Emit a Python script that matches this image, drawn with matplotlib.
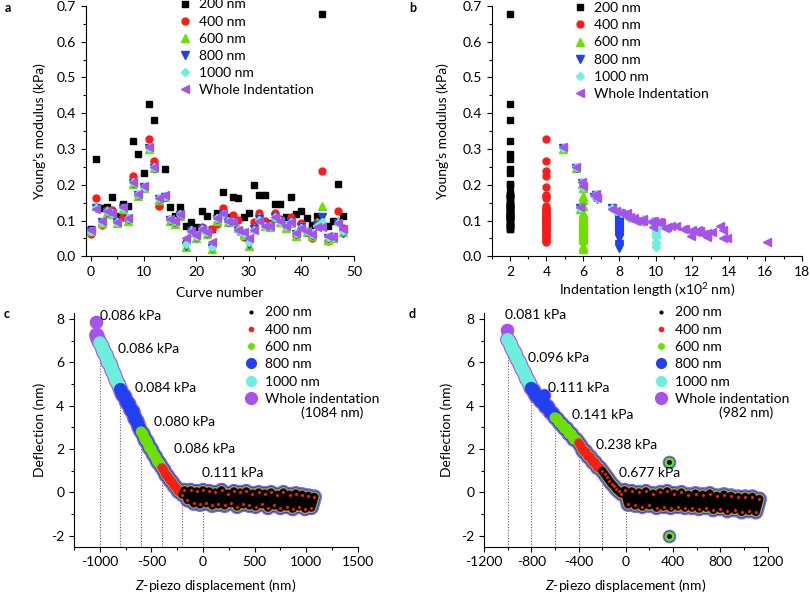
import numpy as np
import matplotlib
matplotlib.use('Agg')
import matplotlib.pyplot as plt
from matplotlib.lines import Line2D
from matplotlib.ticker import MultipleLocator

plt.rcParams['font.family'] = ['Lato', 'DejaVu Sans']
plt.rcParams['font.size'] = 10
plt.rcParams['axes.unicode_minus'] = False
plt.rcParams['mathtext.fontset'] = 'custom'
plt.rcParams['mathtext.rm'] = 'Lato'
plt.rcParams['mathtext.it'] = 'Lato:italic'
plt.rcParams['path.simplify'] = False

# ---------------- panel a / b data ----------------
curve_no = np.arange(49)
e200 = [0.076, 0.271, 0.134, 0.137, 0.165, 0.113, 0.146, 0.140, 0.323, 0.285,
        0.232, 0.425, 0.380, 0.143, 0.243, 0.137, 0.114, 0.137, 0.086, 0.095,
        0.083, 0.126, 0.112, 0.077, 0.122, 0.179, 0.109, 0.165, 0.164, 0.109,
        0.120, 0.200, 0.170, 0.171, 0.092, 0.147, 0.146, 0.111, 0.167, 0.117,
        0.127, 0.108, 0.087, 0.113, 0.677, 0.085, 0.098, 0.203, 0.113]
e400 = [0.062, 0.164, 0.087, 0.130, 0.129, 0.098, 0.109, 0.105, 0.224, 0.170,
        0.195, 0.327, 0.266, 0.141, 0.168, 0.103, 0.100, 0.115, 0.040, 0.070,
        0.060, 0.083, 0.070, 0.075, 0.090, 0.136, 0.100, 0.115, 0.101, 0.053,
        0.045, 0.097, 0.122, 0.100, 0.090, 0.120, 0.105, 0.086, 0.109, 0.060,
        0.092, 0.070, 0.050, 0.097, 0.238, 0.042, 0.055, 0.126, 0.078]
e600 = [0.070, 0.142, 0.092, 0.122, 0.118, 0.093, 0.132, 0.100, 0.203, 0.168,
        0.190, 0.300, 0.247, 0.158, 0.165, 0.098, 0.090, 0.112, 0.025, 0.068,
        0.052, 0.075, 0.062, 0.020, 0.100, 0.117, 0.095, 0.095, 0.080, 0.060,
        0.030, 0.078, 0.110, 0.086, 0.083, 0.108, 0.097, 0.080, 0.094, 0.057,
        0.085, 0.068, 0.058, 0.095, 0.141, 0.045, 0.052, 0.098, 0.068]
e800 = [0.071, 0.135, 0.096, 0.125, 0.120, 0.095, 0.134, 0.105, 0.205, 0.172,
        0.193, 0.303, 0.248, 0.160, 0.167, 0.101, 0.096, 0.115, 0.030, 0.070,
        0.055, 0.076, 0.065, 0.022, 0.104, 0.118, 0.097, 0.096, 0.072, 0.064,
        0.035, 0.075, 0.103, 0.084, 0.084, 0.109, 0.099, 0.084, 0.096, 0.062,
        0.081, 0.069, 0.060, 0.088, 0.111, 0.052, 0.053, 0.094, 0.066]
e1000 = [0.072, 0.134, 0.097, 0.126, 0.121, 0.096, 0.136, 0.107, 0.207, 0.174,
         0.195, 0.304, 0.249, 0.162, 0.169, 0.104, 0.098, 0.117, 0.035, 0.071,
         0.058, 0.077, 0.067, 0.027, 0.106, 0.119, 0.099, 0.096, 0.073, 0.066,
         0.040, 0.074, 0.101, 0.085, 0.085, 0.110, 0.100, 0.086, 0.097, 0.064,
         0.080, 0.070, 0.061, 0.085, 0.096, 0.055, 0.054, 0.093, 0.072]
e_whole = [0.073, 0.133, 0.098, 0.127, 0.122, 0.097, 0.137, 0.108, 0.208, 0.175,
           0.196, 0.305, 0.250, 0.163, 0.170, 0.105, 0.100, 0.118, 0.050, 0.072,
           0.060, 0.077, 0.068, 0.040, 0.108, 0.120, 0.100, 0.097, 0.073, 0.067,
           0.050, 0.073, 0.100, 0.085, 0.085, 0.110, 0.100, 0.086, 0.097, 0.065,
           0.080, 0.070, 0.062, 0.083, 0.081, 0.057, 0.054, 0.092, 0.075]
# whole indentation length per curve (x10^2 nm)
whole_len = [12.0, 7.6, 9.3, 7.8, 8.1, 9.8, 5.85, 8.8, 5.95, 6.7,
             5.99, 4.9, 5.6, 6.75, 6.6, 9.3, 9.2, 8.3, 13.9, 12.4,
             12.7, 11.5, 12.2, 16.1, 8.5, 8.4, 9.8, 10.2, 13.7, 13.1,
             13.7, 12.3, 8.9, 11.1, 13.5, 8.6, 9.9, 10.84, 10.1, 12.8,
             10.5, 11.9, 12.6, 10.6, 9.82, 11.9, 12.8, 10.3, 11.6]
depths = [2, 4, 6, 8, 10]

series_names = ['200 nm', '400 nm', '600 nm', '800 nm', '1000 nm', 'Whole Indentation']
col_black = 'black'
col_red = '#ff1a1a'
col_green = '#6ee000'
col_blue = '#2140f0'
col_cyan = '#6cf0dc'
col_purple = '#a852ee'
scatter_styles = [
    dict(marker='s', color=col_black, ms=4.4),
    dict(marker='o', color=col_red, ms=5.0),
    dict(marker='^', color=col_green, ms=5.2),
    dict(marker='v', color=col_blue, ms=5.2),
    dict(marker='D', color=col_cyan, ms=4.4),
    dict(marker='<', color=col_purple, ms=5.6),
]

# ---------------- panel c / d data ----------------
c_x = [-1030, -1020, -1000, -980, -960, -940, -920, -900, -880, -860, -840, -820,
       -800, -780, -760, -740, -720, -700, -680, -660, -640, -620,
       -600, -580, -560, -540, -520, -500, -480, -460, -440, -420,
       -400, -380, -360, -340, -320, -300, -280, -260, -240, -220, -200,
       -180, -150, -120, -90, -60, -30, 0, 30, 60, 90, 120, 150, 180, 210,
       240, 270, 300, 330, 360, 390, 420, 450, 480, 510, 540, 570, 600, 630,
       660, 690, 720, 750, 780, 810, 840, 870, 900, 930, 960, 990, 1020, 1050, 1080]
c_y = [7.25, 7.1, 6.9, 6.75, 6.45, 6.35, 6.0, 5.95, 5.6, 5.45, 5.15, 5.0,
       4.75, 4.5, 4.45, 4.15, 4.1, 3.8, 3.75, 3.4, 3.3, 3.0,
       2.8, 2.7, 2.4, 2.35, 2.05, 2.0, 1.75, 1.65, 1.4, 1.35,
       1.15, 1.05, 0.8, 0.75, 0.55, 0.5, 0.3, 0.25, 0.05, 0.05, -0.1,
       0.1, -0.35, 0.1, -0.5, 0.05, -0.55, 0.1, -0.5, 0.05, -0.6, 0.0, -0.55, 0.1, -0.6,
       -0.05, -0.5, 0.05, -0.65, 0.0, -0.55, 0.05, -0.6, -0.05, -0.65, 0.0, -0.55, -0.05, -0.7,
       0.0, -0.6, -0.1, -0.7, 0.0, -0.65, -0.1, -0.75, -0.05, -0.65, -0.1, -0.75, -0.15, -0.7, -0.2]
c_top = ([-1037], [7.85])
c_start = [-200, -400, -600, -800, -1000, -1040]
c_vline_x = [-1000, -800, -600, -400, -200, 0]
c_vline_top = [7.2, 4.4, 2.3, 0.8, -0.1, -0.55]
c_moduli = ['0.086 kPa', '0.086 kPa', '0.084 kPa', '0.080 kPa', '0.086 kPa', '0.111 kPa']
c_label_xy = [(-1000, 8.12), (-822, 6.61), (-660, 4.8), (-476, 3.25), (-282, 2.0), (-13, 0.91)]

d_x = [-1000, -980, -960, -940, -920, -900, -880, -860, -840, -820,
       -800, -780, -760, -740, -720, -700, -680, -660, -640, -620,
       -600, -580, -560, -540, -520, -500, -480, -460, -440, -420,
       -400, -380, -360, -340, -320, -300, -280, -260, -240, -220,
       -200, -180, -160, -140, -120, -100, -80, -60, -40,
       -10, 20, 50, 80, 110, 140, 170, 200, 230, 260, 290, 320, 350, 380, 410,
       440, 470, 500, 530, 560, 590, 620, 650, 680, 710, 740, 770, 800, 830, 860,
       890, 920, 950, 980, 1010, 1040, 1070, 1100, 1130]
d_y = [7.05, 6.9, 6.6, 6.45, 6.15, 6.0, 5.7, 5.55, 5.25, 5.1,
       4.8, 4.7, 4.45, 4.4, 4.2, 4.2, 3.95, 3.95, 3.7, 3.65,
       3.45, 3.4, 3.2, 3.15, 2.95, 2.95, 2.7, 2.7, 2.45, 2.45,
       2.3, 2.15, 1.9, 1.9, 1.65, 1.65, 1.4, 1.4, 1.15, 1.15,
       1.0, 0.85, 0.7, 0.55, 0.4, 0.3, 0.15, 0.05, -0.05,
       0.1, -0.55, 0.05, -0.6, 0.0, -0.65, 0.05, -0.6, -0.05, -0.7, 0.0, -0.65, 0.05, -0.7, -0.05,
       -0.65, 0.0, -0.7, -0.1, -0.7, -0.05, -0.75, -0.1, -0.7, -0.05, -0.8, -0.15, -0.75, -0.1, -0.85,
       -0.15, -0.8, -0.2, -0.9, -0.2, -0.85, -0.2, -0.9, -0.3]
d_top = ([-1003], [7.5])
d_spikes = ([-688, 365, 365], [4.5, 1.42, -1.99])
d_start = [-200, -400, -600, -800, -1000, -1010]
d_vline_x = [-1000, -800, -600, -400, -200, 0]
d_vline_top = [7.0, 4.4, 3.2, 2.1, 0.7, -0.8]
d_moduli = ['0.081 kPa', '0.096 kPa', '0.111 kPa', '0.141 kPa', '0.238 kPa', '0.677 kPa']
d_label_xy = [(-1022, 8.18), (-825, 6.2), (-656, 4.8), (-458, 3.58), (-252, 2.17), (-55, 0.88)]

fig = plt.figure(figsize=(8.1, 5.96), dpi=100)
fig.patch.set_facecolor('white')

ax_a = fig.add_axes([0.106, 0.570, 0.331, 0.420])
ax_b = fig.add_axes([0.607, 0.570, 0.383, 0.420])
ax_c = fig.add_axes([0.0914, 0.0827, 0.3502, 0.3913])
ax_d = fig.add_axes([0.5975, 0.0827, 0.3502, 0.3913])


def style_axes(ax):
    for side in ['top', 'right']:
        ax.spines[side].set_visible(False)
    for side in ['left', 'bottom']:
        ax.spines[side].set_linewidth(0.8)
    ax.tick_params(which='major', direction='out', length=3.5, width=0.8, labelsize=10)
    ax.tick_params(which='minor', direction='out', length=2, width=0.8)


# ---- a ----
all_e = [e200, e400, e600, e800, e1000, e_whole]
for vals, st, name in zip(all_e, scatter_styles, series_names):
    ax_a.plot(curve_no, vals, linestyle='none', marker=st['marker'], color=st['color'],
              ms=st['ms'], mec=st['color'], label=name)
ax_a.set_xlim(-1, 50)
ax_a.set_ylim(0, 0.7)
ax_a.xaxis.set_major_locator(MultipleLocator(10))
ax_a.xaxis.set_minor_locator(MultipleLocator(5))
ax_a.yaxis.set_major_locator(MultipleLocator(0.1))
ax_a.yaxis.set_minor_locator(MultipleLocator(0.05))
ax_a.yaxis.set_major_formatter(matplotlib.ticker.FormatStrFormatter('%.1f'))
style_axes(ax_a)
ax_a.set_xlabel('Curve number')
ax_a.xaxis.set_label_coords(0.5, -0.123)
ax_a.set_ylabel('Young\u2019s modulus (kPa)')
ax_a.yaxis.set_label_coords(-0.15, 0.5)
ax_a.legend(loc='upper left', bbox_to_anchor=(0.348, 1.03), frameon=False,
            borderpad=0, borderaxespad=0, handlelength=0.8, handletextpad=0.6,
            labelspacing=0.37, fontsize=10)

# ---- b ----
# curves shorter than a given depth are plotted at their whole indentation length
for vals, d, st, name in zip(all_e[:5], depths, scatter_styles[:5], series_names[:5]):
    xs = np.minimum(d, np.asarray(whole_len))
    ax_b.plot(xs, vals, linestyle='none', marker=st['marker'], color=st['color'],
              ms=st['ms'], mec=st['color'], label=name)
st = scatter_styles[5]
ax_b.plot(whole_len, e_whole, linestyle='none', marker=st['marker'], color=st['color'],
          ms=st['ms'], mec=st['color'], label=series_names[5])
ax_b.set_xlim(1, 18)
ax_b.set_ylim(0, 0.7)
ax_b.xaxis.set_minor_locator(MultipleLocator(1))
ax_b.set_xticks(np.arange(2, 19, 2))
ax_b.yaxis.set_major_locator(MultipleLocator(0.1))
ax_b.yaxis.set_minor_locator(MultipleLocator(0.05))
ax_b.yaxis.set_major_formatter(matplotlib.ticker.FormatStrFormatter('%.1f'))
style_axes(ax_b)
ax_b.set_xlabel('Indentation length (x10$^{2}$ nm)')
ax_b.xaxis.set_label_coords(0.5, -0.1)
ax_b.set_ylabel('Young\u2019s modulus (kPa)')
ax_b.yaxis.set_label_coords(-0.138, 0.5)
ax_b.legend(loc='upper left', bbox_to_anchor=(0.266, 1.015), frameon=False,
            borderpad=0, borderaxespad=0, handlelength=0.8, handletextpad=0.6,
            labelspacing=0.37, fontsize=10)

# ---- c / d force curves ----
band_colors = [col_black, col_red, col_green, col_blue, col_cyan, col_purple]
band_widths = [5.6, 6.4, 7.8, 9.4, 9.4, 11.0]
leg_ms = [2.0, 3.0, 4.0, 7.0, 7.0, 8.5]
leg_names = ['200 nm', '400 nm', '600 nm', '800 nm', '1000 nm', 'Whole indentation']


def draw_curve(ax, xs, ys, starts, top, spikes, vx, vtop, mods, mxy, length_txt):
    xs = np.asarray(xs)
    ys = np.asarray(ys)
    ax.vlines(vx, -2.5, vtop, colors='#5a5a80', linestyles=(0, (1, 1.5)), lw=0.8, zorder=1)
    # draw from widest (whole) to narrowest (200 nm)
    for i in [5, 4, 3, 2, 1, 0]:
        m = xs >= starts[i]
        ax.plot(xs[m], ys[m], color=band_colors[i], lw=band_widths[i],
                solid_capstyle='round', solid_joinstyle='round', zorder=2 + (5 - i))
        tx = [x for x in top[0] if x >= starts[i]]
        ty = [y for x, y in zip(top[0], top[1]) if x >= starts[i]]
        if tx:
            ax.plot(tx, ty, linestyle='none', marker='o', color=band_colors[i],
                    ms=band_widths[i] * 0.8, mec=band_colors[i], zorder=2 + (5 - i))
        if spikes is not None and i != 1:
            sx = [x for x in spikes[0] if x >= starts[i]]
            sy = [y for x, y in zip(spikes[0], spikes[1]) if x >= starts[i]]
            ax.plot(sx, sy, linestyle='none', marker='o', color=band_colors[i],
                    ms=(2.5 if i == 0 else band_widths[i] * 0.8), mec=band_colors[i],
                    zorder=2 + (5 - i))
    # red speckles of the 400 nm trace over the 200 nm core
    m = xs >= starts[0]
    ax.plot(xs[m], ys[m], linestyle='none', marker='o', ms=2.2, color=col_red,
            mec='none', zorder=9)
    for txt, (tx, ty) in zip(mods, mxy):
        ax.text(tx, ty, txt, ha='left', va='center', fontsize=10, zorder=10)
    ax.set_ylim(-2.5, 8.25)
    ax.yaxis.set_major_locator(MultipleLocator(2))
    ax.yaxis.set_minor_locator(MultipleLocator(1))
    style_axes(ax)
    ax.set_xlabel('$\\it{Z}$-piezo displacement (nm)')
    ax.xaxis.set_label_coords(0.5, -0.13)
    ax.set_ylabel('Deflection (nm)')
    handles = [Line2D([], [], linestyle='none', marker='o', color=c, mec=c, ms=s)
               for c, s in zip(band_colors, leg_ms)]
    ax.legend(handles, leg_names, loc='upper left', bbox_to_anchor=(0.605, 1.03),
              frameon=False, borderpad=0, borderaxespad=0, handlelength=0.8,
              handletextpad=0.6, labelspacing=0.38, fontsize=10)
    ax.text(1.02, 0.575, length_txt, transform=ax.transAxes, ha='right', va='center',
            fontsize=10)


draw_curve(ax_c, c_x, c_y, c_start, c_top, None, c_vline_x, c_vline_top,
           c_moduli, c_label_xy, '(1084 nm)')
ax_c.set_xlim(-1250, 1500)
ax_c.xaxis.set_major_locator(MultipleLocator(500))
ax_c.xaxis.set_minor_locator(MultipleLocator(250))
ax_c.yaxis.set_label_coords(-0.099, 0.5)

draw_curve(ax_d, d_x, d_y, d_start, d_top, d_spikes, d_vline_x, d_vline_top,
           d_moduli, d_label_xy, '(982 nm)')
ax_d.set_xlim(-1200, 1200)
ax_d.xaxis.set_major_locator(MultipleLocator(400))
ax_d.xaxis.set_minor_locator(MultipleLocator(200))
ax_d.yaxis.set_label_coords(-0.11, 0.5)

for lab, (fx, fy) in zip(['a', 'b', 'c', 'd'],
                         [(0.006, 0.987), (0.505, 0.987), (0.005, 0.473), (0.505, 0.473)]):
    fig.text(fx, fy, lab, fontsize=9, fontweight='bold', ha='left', va='center')

fig.savefig('out.png', dpi=100, facecolor='white')
